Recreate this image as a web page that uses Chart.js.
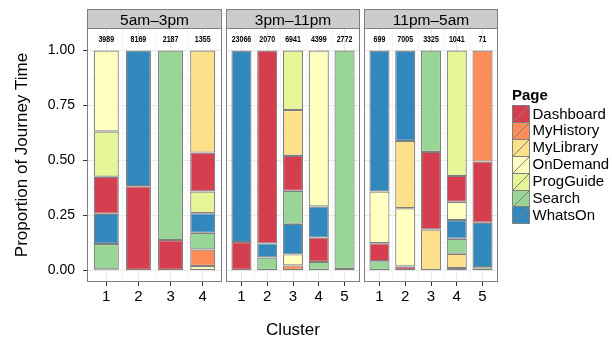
<!DOCTYPE html>
<html><head><meta charset="utf-8">
<script src="https://cdn.jsdelivr.net/npm/chart.js@4.4.1/dist/chart.umd.min.js"></script>
<style>
html,body{margin:0;padding:0;background:#fff;width:612px;height:346px;overflow:hidden}
.pn{position:absolute;top:0}
canvas{display:block}
</style></head><body>
<div class="pn" style="left:0px"><canvas id="c1" width="222" height="346"></canvas></div>
<div class="pn" style="left:226px"><canvas id="c2" width="134" height="346"></canvas></div>
<div class="pn" style="left:364px"><canvas id="c3" width="248" height="346"></canvas></div>
<script>
// ---------- data ----------
const pages = ["Dashboard","MyHistory","MyLibrary","OnDemand","ProgGuide","Search","WhatsOn"];
const pageColors = ["#D53E4F","#FC8D59","#FEE08B","#FFFFBF","#E6F598","#99D594","#3288BD"];
const panelTitles = ["5am\u20133pm","3pm\u201311pm","11pm\u20135am"];
const yTickValues = [0, 0.25, 0.5, 0.75, 1];
const yTickLabels = ["0.00","0.25","0.50","0.75","1.00"];

const clusters1 = ["1","2","3","4"];
const counts1 = [3989, 8169, 2187, 1355];
// stacking order of each bar, bottom to top, and matching proportions
const order1 = [
  ["MyLibrary","Search","WhatsOn","Dashboard","ProgGuide","OnDemand"],
  ["Dashboard","WhatsOn"],
  ["Dashboard","Search"],
  ["OnDemand","MyHistory","Search","WhatsOn","ProgGuide","Dashboard","MyLibrary"]
];
const values1 = [
  [0.005, 0.115, 0.138, 0.168, 0.206, 0.368],
  [0.383, 0.617],
  [0.138, 0.862],
  [0.020, 0.075, 0.076, 0.089, 0.099, 0.177, 0.464]
];

const clusters2 = ["1","2","3","4","5"];
const counts2 = [23066, 2070, 6941, 4399, 2772];
const order2 = [
  ["Dashboard","WhatsOn"],
  ["Search","WhatsOn","Dashboard"],
  ["MyHistory","OnDemand","WhatsOn","Search","Dashboard","MyLibrary","ProgGuide"],
  ["Search","Dashboard","WhatsOn","OnDemand"],
  ["Dashboard","Search"]
];
const values2 = [
  [0.129, 0.871],
  [0.059, 0.064, 0.877],
  [0.023, 0.050, 0.139, 0.150, 0.159, 0.209, 0.270],
  [0.039, 0.111, 0.141, 0.709],
  [0.007, 0.993]
];

const clusters3 = ["1","2","3","4","5"];
const counts3 = [699, 7005, 3325, 1041, 71];
const order3 = [
  ["Search","Dashboard","OnDemand","WhatsOn"],
  ["Dashboard","OnDemand","MyLibrary","WhatsOn"],
  ["MyLibrary","Dashboard","Search"],
  ["MyHistory","MyLibrary","Search","WhatsOn","OnDemand","Dashboard","ProgGuide"],
  ["Search","WhatsOn","Dashboard","MyHistory"]
];
const values3 = [
  [0.042, 0.082, 0.235, 0.641],
  [0.018, 0.265, 0.306, 0.411],
  [0.186, 0.353, 0.461],
  [0.011, 0.065, 0.068, 0.085, 0.083, 0.118, 0.570],
  [0.015, 0.202, 0.278, 0.505]
];

// ---------- styling ----------
const FONT = '"Liberation Sans", Arial, Helvetica, sans-serif';
Chart.defaults.font.family = FONT;
Chart.defaults.color = '#000';
const MAJOR = '#e6e6e6', MINOR = '#f4f4f4', FRAME = '#7f7f7f', TICK = '#333';
const Y_MIN = -0.0525, Y_MAX = 1.1025;
const TOP = 28, XAXIS_H = 64;

function buildDatasets(order, values) {
  return pages.map((p, pi) => {
    const data = [];
    order.forEach((seq, bi) => {
      const k = seq.indexOf(p);
      if (k < 0) return;
      let start = 0;
      for (let j = 0; j < k; j++) start += values[bi][j];
      data.push({x: bi + 1, y: [start, start + values[bi][k]]});
    });
    return {
      label: p, data,
      backgroundColor: pageColors[pi], borderColor: FRAME, borderWidth: 1.2,
      borderSkipped: false, grouped: false, barPercentage: 0.78, categoryPercentage: 1
    };
  });
}

function drawLegend(ctx, ox) {
  const x0 = 512 - ox;
  ctx.save();
  ctx.fillStyle = '#000';
  ctx.font = 'bold 15px ' + FONT;
  ctx.textAlign = 'left'; ctx.textBaseline = 'alphabetic';
  ctx.fillText('Page', x0, 99.5);
  const size = 17, pitch = 16.9, top0 = 105;
  pages.forEach((p, i) => {
    const y = top0 + i * pitch;
    const yy = Math.round(y) + 0.5, xx = x0 + 0.5;
    ctx.fillStyle = pageColors[i];
    ctx.fillRect(xx, yy, size, size);
    ctx.strokeStyle = FRAME; ctx.lineWidth = 1;
    ctx.strokeRect(xx, yy, size, size);
    ctx.beginPath(); ctx.moveTo(xx, yy + size); ctx.lineTo(xx + size, yy); ctx.stroke();
    ctx.fillStyle = '#000';
    ctx.font = '15px ' + FONT;
    ctx.fillText(p, x0 + 20.5, y + 13.5);
  });
  ctx.restore();
}

function makePanel(id, idx, clusters, counts, order, values, opt) {
  const n = clusters.length;
  const plugin = {
    id: 'facet' + idx,
    beforeDatasetsDraw(chart) {
      const {ctx, chartArea: a, scales: {x}} = chart;
      ctx.save();
      ctx.strokeStyle = MINOR; ctx.lineWidth = 1;
      for (let i = 1; i < n; i++) {
        const px = Math.round(x.getPixelForValue(i + 0.5)) + 0.5;
        ctx.beginPath(); ctx.moveTo(px, a.top); ctx.lineTo(px, a.bottom); ctx.stroke();
      }
      ctx.restore();
    },
    afterDraw(chart) {
      const {ctx, chartArea: a, scales: {x, y}} = chart;
      ctx.save();
      // counts above bars (condensed bold text)
      ctx.fillStyle = '#000';
      ctx.font = 'bold 9.3px ' + FONT;
      ctx.textAlign = 'center'; ctx.textBaseline = 'middle';
      counts.forEach((c, i) => {
        ctx.save();
        ctx.translate(x.getPixelForValue(i + 1), y.getPixelForValue(1.05));
        ctx.scale(0.76, 1);
        ctx.fillText(String(c), 0, 0);
        ctx.restore();
      });
      // panel frame
      ctx.strokeStyle = FRAME; ctx.lineWidth = 1;
      const L = Math.round(a.left) + 0.5, R = Math.round(a.right) - 0.5;
      const T = Math.round(a.top) + 0.5, B = Math.round(a.bottom) - 0.5;
      ctx.strokeRect(L, T, R - L, B - T);
      // strip
      ctx.fillStyle = '#cccccc';
      ctx.fillRect(L, 9.5, R - L, T - 9.5);
      ctx.strokeRect(L, 9.5, R - L, T - 9.5);
      ctx.fillStyle = '#000';
      ctx.font = '15.5px ' + FONT;
      ctx.textAlign = 'center'; ctx.textBaseline = 'alphabetic';
      ctx.fillText(panelTitles[idx], (a.left + a.right) / 2, 24.5);
      if (opt.legend) drawLegend(ctx, opt.left);
      ctx.restore();
    }
  };
  return new Chart(document.getElementById(id), {
    type: 'bar',
    data: {datasets: buildDatasets(order, values)},
    plugins: [plugin],
    options: {
      responsive: false, animation: false, maintainAspectRatio: false,
      layout: {padding: {top: TOP, left: 0, right: opt.padRight || 0, bottom: 0}},
      plugins: {legend: {display: false}, tooltip: {enabled: false}},
      scales: {
        x: {
          type: 'linear', min: 0.4, max: n + 0.6, bounds: 'data', offset: false,
          afterBuildTicks: s => { s.ticks = clusters.map((c, i) => ({value: i + 1})); },
          afterFit: s => { s.height = XAXIS_H; },
          ticks: {callback: (v, i) => clusters[i], font: {size: 15}, color: '#000', padding: 2, maxRotation: 0, autoSkip: false},
          grid: {offset: false, color: MAJOR, tickColor: TICK, tickLength: 4, drawTicks: true, lineWidth: 1},
          border: {display: false},
          title: {display: !!opt.xTitle, text: 'Cluster', font: {size: 17}, color: '#000', padding: {top: 0, bottom: 5}}
        },
        y: {
          type: 'linear', min: Y_MIN, max: Y_MAX, bounds: 'data',
          afterBuildTicks: s => { const t = []; for (let k = 0; k <= 8; k++) t.push({value: k * 0.125}); s.ticks = t; },
          afterFit: s => { s.width = opt.yAxisWidth; },
          ticks: {
            display: !!opt.yLabels,
            callback: v => { const k = yTickValues.indexOf(v); return k >= 0 ? yTickLabels[k] : ''; },
            font: {size: 14}, color: '#000', padding: 8, autoSkip: false
          },
          grid: {
            color: c => (c.tick && yTickValues.indexOf(c.tick.value) >= 0) ? MAJOR : MINOR,
            tickColor: c => (c.tick && yTickValues.indexOf(c.tick.value) >= 0) ? TICK : 'rgba(0,0,0,0)',
            tickLength: 4, drawTicks: !!opt.yLabels, lineWidth: 1
          },
          border: {display: false},
          title: {display: !!opt.yLabels, text: 'Proportion of Journey Time', font: {size: 17}, color: '#000', padding: {top: 12, bottom: 0}}
        }
      }
    }
  });
}

makePanel('c1', 0, clusters1, counts1, order1, values1, {yAxisWidth: 87, yLabels: true, left: 0});
makePanel('c2', 1, clusters2, counts2, order2, values2, {yAxisWidth: 0, xTitle: true, left: 226});
makePanel('c3', 2, clusters3, counts3, order3, values3, {yAxisWidth: 0, padRight: 114, legend: true, left: 364});
</script>
</body></html>
